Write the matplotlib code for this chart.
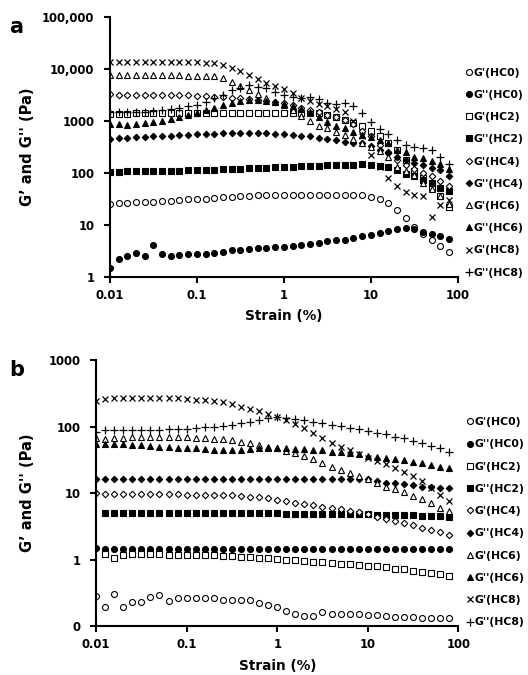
import matplotlib

matplotlib.use("Agg")
import matplotlib.pyplot as plt
import numpy as np

nan = np.nan

# strain (%) - 10 points per decade
strain = [0.01, 0.0126, 0.0158, 0.02, 0.0251, 0.0316, 0.0398, 0.0501, 0.0631, 0.0794,
          0.1, 0.126, 0.158, 0.2, 0.251, 0.316, 0.398, 0.501, 0.631, 0.794,
          1, 1.26, 1.58, 2, 2.51, 3.16, 3.98, 5.01, 6.31, 7.94,
          10, 12.6, 15.8, 20, 25.1, 31.6, 39.8, 50.1, 63.1, 79.4]

labels = ["G'(HC0)", "G''(HC0)", "G'(HC2)", "G''(HC2)", "G'(HC4)",
          "G''(HC4)", "G'(HC6)", "G''(HC6)", "G'(HC8)", "G''(HC8)"]

# ---- panel a ----
a_gp_hc0 = [25, 26, 26, 27, 27, 28, 29, 29, 30, 31, 31, 32, 33, 34, 34, 35, 36, 37, 37, 38,
            38, 38, 38, 38, 38, 38, 38, 38, 38, 37, 34, 32, 26, 19.5, 13.6, 9.2, 6.7, 5.1, 3.9, 3.0]
a_gpp_hc0 = [1.5, 2.2, 2.5, 2.9, 2.5, 4.1, 2.8, 2.5, 2.6, 2.7, 2.75, 2.8, 2.9, 3.0, 3.2, 3.3, 3.4, 3.5, 3.6, 3.7,
             3.8, 3.9, 4.1, 4.3, 4.5, 4.8, 5.0, 5.2, 5.5, 6.0, 6.4, 6.9, 7.7, 8.3, 8.6, 8.3, 7.4, 6.7, 6.1, 5.4]
a_gp_hc2 = [1350, 1380, 1380, 1400, 1400, 1400, 1420, 1420, 1420, 1420, 1420, 1420, 1420, 1420, 1420, 1420, 1420, 1420, 1420, 1420,
            1420, 1420, 1400, 1400, 1400, 1300, 1200, 1050, 920, 800, 650, 500, 380, 280, 180, 110, 80, 50, 35, 22]
a_gpp_hc2 = [105, 105, 106, 107, 108, 108, 107, 109, 110, 111, 112, 113, 115, 116, 118, 120, 122, 124, 126, 128,
             130, 132, 134, 136, 138, 140, 142, 143, 144, 145, 143, 138, 130, 115, 95, 85, 74, 64, 52, 44]
a_gp_hc4 = [3300, 3200, 3200, 3200, 3200, 3200, 3200, 3200, 3100, 3100, 3000, 3000, 2900, 2900, 2800, 2700, 2600, 2500, 2400, 2300,
            2200, 2000, 1800, 1600, 1500, 1300, 1200, 1050, 850, 650, 500, 350, 250, 180, 140, 120, 100, 85, 70, 55]
a_gpp_hc4 = [450, 460, 470, 480, 490, 500, 510, 520, 530, 540, 550, 560, 570, 580, 590, 590, 590, 590, 580, 570,
             560, 540, 520, 500, 470, 440, 420, 400, 380, 370, 330, 280, 240, 200, 180, 155, 140, 125, 115, 85]
a_gp_hc6 = [7500, 7500, 7500, 7500, 7500, 7500, 7500, 7500, 7500, 7400, 7400, 7300, 7200, 6600, 5600, 4600, 3900, 3300, 2800, 2300,
            2000, 1600, 1250, 1000, 800, 720, 620, 540, 450, 380, 320, 260, 200, 130, 110, 90, 65, 48, 35, 25]
a_gpp_hc6 = [880, 850, 830, 860, 900, 950, 1000, 1100, 1200, 1300, 1400, 1600, 1800, 2000, 2200, 2400, 2500, 2500, 2400, 2300,
             2100, 1900, 1700, 1500, 1200, 960, 800, 730, 620, 540, 480, 430, 370, 280, 250, 200, 190, 170, 150, 120]
a_gp_hc8 = [13500, 13500, 13500, 13500, 13500, 13500, 13500, 13500, 13500, 13500, 13500, 13200, 12800, 12000, 10500, 9000, 7500, 6300, 5400, 4700,
            4100, 3400, 2800, 2400, 2100, 1900, 1700, 1500, 1000, 500, 220, 130, 80, 55, 42, 38, 36, 14, 24, 30]
a_gpp_hc8 = [1500, 1500, 1450, 1500, 1500, 1550, 1600, 1700, 1800, 1900, 2000, 2300, 2700, 3200, 3900, 4300, 4800, 4500, 4200, 3600,
             3200, 2900, 2800, 2900, 2600, 2200, 2100, 2200, 1900, 1400, 950, 700, 550, 430, 340, 320, 300, 270, 200, 150]

# ---- panel b ----
b_gp_hc0 = [0.28, 0.19, 0.30, 0.19, 0.23, 0.23, 0.27, 0.29, 0.24, 0.26, 0.26, 0.26, 0.26, 0.26, 0.25, 0.25, 0.25, 0.25, 0.22, 0.21,
            0.19, 0.17, 0.15, 0.14, 0.14, 0.16, 0.15, 0.15, 0.15, 0.15, 0.147, 0.145, 0.14, 0.137, 0.136, 0.135, 0.134, 0.133, 0.132, 0.13]
b_gpp_hc0 = [1.5, 1.42, 1.43, 1.45, 1.44, 1.45, 1.45, 1.45, 1.45, 1.45, 1.45, 1.45, 1.45, 1.45, 1.45, 1.45, 1.45, 1.45, 1.45, 1.45,
             1.45, 1.45, 1.45, 1.45, 1.45, 1.45, 1.45, 1.45, 1.45, 1.45, 1.45, 1.45, 1.45, 1.45, 1.45, 1.45, 1.45, 1.45, 1.45, 1.45]
b_gp_hc2 = [nan, 1.2, 1.05, 1.18, 1.2, 1.2, 1.2, 1.2, 1.18, 1.18, 1.17, 1.17, 1.16, 1.15, 1.14, 1.12, 1.1, 1.08, 1.06, 1.04,
            1.02, 1.0, 0.97, 0.95, 0.93, 0.91, 0.89, 0.87, 0.85, 0.83, 0.81, 0.79, 0.76, 0.73, 0.71, 0.68, 0.65, 0.62, 0.6, 0.57]
b_gpp_hc2 = [nan, 5.0, 5.0, 5.0, 5.0, 5.0, 5.0, 5.0, 5.0, 5.0, 5.0, 5.0, 5.0, 5.0, 5.0, 5.0, 5.0, 5.0, 4.95, 4.95,
             4.95, 4.9, 4.9, 4.9, 4.9, 4.85, 4.85, 4.85, 4.8, 4.8, 4.8, 4.75, 4.7, 4.7, 4.65, 4.6, 4.55, 4.5, 4.45, 4.4]
b_gp_hc4 = [10, 9.6, 9.6, 9.7, 9.7, 9.7, 9.7, 9.6, 9.6, 9.6, 9.5, 9.5, 9.4, 9.3, 9.3, 9.2, 9.0, 8.8, 8.6, 8.3,
            7.9, 7.5, 7.2, 6.8, 6.5, 6.2, 6.0, 5.7, 5.4, 5.1, 4.8, 4.4, 4.1, 3.8, 3.5, 3.3, 3.0, 2.8, 2.6, 2.3]
b_gpp_hc4 = [16, 16.5, 16.5, 16.5, 16.5, 16.5, 16.5, 16.5, 16.5, 16.5, 16.5, 16.5, 16.5, 16.5, 16.5, 16.5, 16.5, 16.5, 16.5, 16.5,
             16.5, 16.5, 16.5, 16.5, 16.5, 16.5, 16.5, 16.5, 16.5, 16.5, 16, 15, 14.2, 14, 13.5, 13, 12.5, 12.2, 12, 11.8]
b_gp_hc6 = [67, 65, 67, 68, 70, 70, 70, 70, 70, 70, 69, 68, 67, 66, 64, 62, 59, 56, 53, 50,
            47, 43, 40, 36, 32, 28, 25, 22, 20, 18, 16, 14, 12.5, 11.5, 10.5, 9, 8, 7, 6, 5.3]
b_gpp_hc6 = [55, 55, 55, 54, 53, 52, 51, 50, 49, 48, 48, 47, 46, 45, 45, 45, 45, 46, 47, 48,
             48, 47, 46, 46, 45, 44, 42, 41, 40, 38, 36, 35, 34, 33, 31, 29, 28, 26, 25, 24]
b_gp_hc8 = [240, 260, 265, 265, 265, 265, 265, 265, 265, 265, 260, 255, 250, 240, 230, 215, 200, 185, 170, 155,
            140, 125, 110, 95, 80, 67, 57, 50, 44, 38, 34, 30, 27, 24, 21, 18, 15, 12, 9.5, 7.5]
b_gpp_hc8 = [83, 88, 88, 88, 89, 89, 90, 90, 91, 92, 93, 95, 97, 100, 102, 105, 112, 117, 125, 135,
             138, 135, 130, 125, 117, 112, 105, 101, 95, 92, 86, 80, 77, 70, 67, 60, 57, 51, 48, 41]

# marker, filled?, size
styles = [("o", False, 4.3), ("o", True, 4.3), ("s", False, 4.3), ("s", True, 4.3),
          ("D", False, 3.3), ("D", True, 3.3), ("^", False, 4.5), ("^", True, 4.5),
          ("x", False, 4.5), ("+", False, 5.5)]

plt.rcParams["font.family"] = ["DejaVu Sans"]
plt.rcParams["font.weight"] = "bold"
plt.rcParams["axes.labelweight"] = "bold"


def draw(ax, series, yticks, yticklabels, ylim, legend_anchor, ylab_x):
    for vals, lab, (m, filled, ms) in zip(series, labels, styles):
        if m in ("x", "+"):
            ax.plot(strain, vals, ls="none", marker=m, ms=ms, color="black",
                    mew=0.9, label=lab)
        else:
            ax.plot(strain, vals, ls="none", marker=m, ms=ms,
                    mfc="black" if filled else "white", mec="black", mew=0.8,
                    label=lab)
    ax.set_xscale("log")
    ax.set_yscale("log")
    ax.set_xlim(0.01, 100)
    ax.set_ylim(*ylim)
    ax.set_xticks([0.01, 0.1, 1, 10, 100])
    ax.set_xticklabels(["0.01", "0.1", "1", "10", "100"])
    ax.set_yticks(yticks)
    ax.set_yticklabels(yticklabels)
    ax.minorticks_off()
    for s in ("top", "right"):
        ax.spines[s].set_visible(False)
    for s in ("left", "bottom"):
        ax.spines[s].set_linewidth(1.5)
    ax.tick_params(direction="out", length=4, width=1.5, labelsize=8.4)
    ax.tick_params(axis="y", pad=7)
    ax.tick_params(axis="x", pad=5)
    ax.set_xlabel("Strain (%)", fontsize=9.8)
    ax.set_ylabel("G\u2019 and G'' (Pa)", fontsize=10.5)
    ax.xaxis.set_label_coords(0.5, -0.123)
    ax.yaxis.set_label_coords(ylab_x, 0.5)
    ax.legend(loc="upper left", bbox_to_anchor=legend_anchor, frameon=False,
              prop={"size": 7.8, "weight": "bold"}, handlelength=0.5,
              handletextpad=0.15, labelspacing=1.13, borderaxespad=0,
              borderpad=0)


fig = plt.figure(figsize=(5.28, 6.75), dpi=100)
ax_a = fig.add_axes([0.208, 0.590, 0.659, 0.385])
ax_b = fig.add_axes([0.182, 0.0726, 0.686, 0.394])

draw(ax_a,
     [a_gp_hc0, a_gpp_hc0, a_gp_hc2, a_gpp_hc2, a_gp_hc4,
      a_gpp_hc4, a_gp_hc6, a_gpp_hc6, a_gp_hc8, a_gpp_hc8],
     [1, 10, 100, 1000, 10000, 100000],
     ["1", "10", "100", "1000", "10,000", "100,000"],
     (1, 100000), (1.025, 0.805), -0.216)
draw(ax_b,
     [b_gp_hc0, b_gpp_hc0, b_gp_hc2, b_gpp_hc2, b_gp_hc4,
      b_gpp_hc4, b_gp_hc6, b_gpp_hc6, b_gp_hc8, b_gpp_hc8],
     [0.1, 1, 10, 100, 1000],
     ["0", "1", "10", "100", "1000"],
     (0.1, 1000), (1.024, 0.785), -0.169)

fig.text(0.018, 0.951, "a", fontsize=15, fontweight="bold")
fig.text(0.018, 0.443, "b", fontsize=15, fontweight="bold")

fig.savefig("out.png", dpi=100)
